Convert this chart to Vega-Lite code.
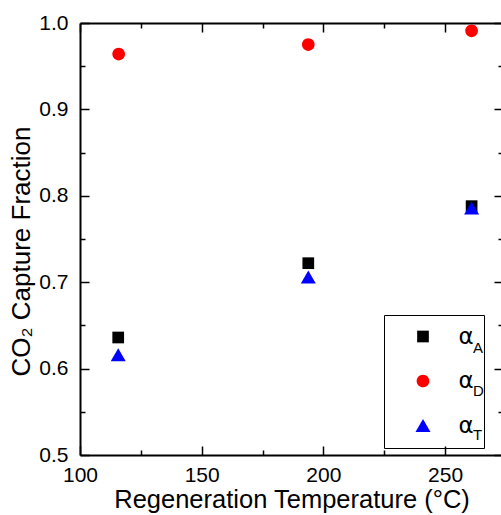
{
  "$schema": "https://vega.github.io/schema/vega-lite/v6.json",
  "width": 423,
  "height": 432,
  "autosize": {"type": "none"},
  "padding": {"left": 80, "top": 23, "right": 0, "bottom": 60},
  "background": "#ffffff",
  "config": {
    "view": {"stroke": null},
    "font": "Liberation Sans",
    "axis": {
      "grid": false,
      "domainColor": "#000000",
      "domainWidth": 2,
      "tickColor": "#000000",
      "tickWidth": 1.5,
      "labelColor": "#000000",
      "titleColor": "#000000",
      "labelFont": "Liberation Sans",
      "titleFont": "Liberation Sans",
      "titleFontWeight": "normal",
      "labelFlush": false,
      "labelOverlap": false
    }
  },
  "data": {
    "values": [
      {"temp": 115.7, "frac": 0.636, "series": "A", "sub": "a"},
      {"temp": 193.8, "frac": 0.722, "series": "A", "sub": "a"},
      {"temp": 260.9, "frac": 0.788, "series": "A", "sub": "a"},
      {"temp": 115.9, "frac": 0.964, "series": "D", "sub": "d"},
      {"temp": 193.8, "frac": 0.975, "series": "D", "sub": "d"},
      {"temp": 260.9, "frac": 0.991, "series": "D", "sub": "d"},
      {"temp": 115.7, "frac": 0.616, "series": "T", "sub": "t"},
      {"temp": 193.8, "frac": 0.706, "series": "T", "sub": "t"},
      {"temp": 260.9, "frac": 0.786, "series": "T", "sub": "t"}
    ]
  },
  "layer": [
    {
      "mark": {"type": "point", "filled": true, "opacity": 1, "strokeWidth": 0, "size": 225},
      "encoding": {
        "x": {
          "field": "temp", "type": "quantitative",
          "scale": {"domain": [100, 273.8], "nice": false, "zero": false},
          "axis": {
            "orient": "bottom",
            "values": [100, 125, 150, 175, 200, 225, 250],
            "format": "d",
            "labelExpr": "datum.value % 50 == 0 ? datum.label : ''",
            "tickSize": {"condition": {"test": "datum.value % 50 == 0", "value": -9}, "value": -5},
            "labelFontSize": 21,
            "labelPadding": 18,
            "title": "Regeneration Temperature (°C)",
            "titleFontSize": 25.5,
            "titlePadding": -2
          }
        },
        "y": {
          "field": "frac", "type": "quantitative",
          "scale": {"domain": [0.5, 1.0], "nice": false, "zero": false},
          "axis": {
            "orient": "left",
            "values": [0.5, 0.55, 0.6, 0.65, 0.7, 0.75, 0.8, 0.85, 0.9, 0.95, 1.0],
            "format": ".1f",
            "labelExpr": "round(datum.value * 100) % 10 == 0 ? datum.label : ''",
            "tickSize": {"condition": {"test": "round(datum.value * 100) % 10 == 0", "value": -9}, "value": -5},
            "labelFontSize": 21,
            "labelPadding": 21,
            "title": "CO₂ Capture Fraction",
            "titleFontSize": 26,
            "titlePadding": 4,
            "titleY": 228
          }
        },
        "color": {
          "field": "series", "type": "nominal",
          "scale": {"domain": ["A", "D", "T"], "range": ["#000000", "#ff0000", "#0000ff"]},
          "legend": {
            "orient": "none",
            "legendX": 304,
            "legendY": 292,
            "title": null,
            "strokeColor": "#000000",
            "padding": 10,
            "symbolSize": 225,
            "symbolStrokeWidth": 0,
            "symbolOffset": 17.5,
            "labelOffset": 24,
            "rowPadding": 20.5,
            "labelFont": "DejaVu Sans",
            "labelFontSize": 23,
            "labelColor": "#000000",
            "labelExpr": "'α\u2004'"
          }
        },
        "shape": {
          "field": "series", "type": "nominal",
          "scale": {
            "domain": ["A", "D", "T"],
            "range": [
              "M-0.78,-0.78L0.78,-0.78L0.78,0.78L-0.78,0.78Z",
              "M-0.847,0A0.847,0.847,0,1,1,0.847,0A0.847,0.847,0,1,1,-0.847,0Z",
              "triangle-up"
            ]
          }
        },
        "opacity": {
          "field": "sub", "type": "nominal",
          "scale": {"type": "point", "domain": ["a", "d", "t"], "range": [1, 1]},
          "legend": {
            "orient": "none",
            "legendX": 378,
            "legendY": 317,
            "title": null,
            "padding": 0,
            "symbolSize": 0,
            "symbolStrokeWidth": 0,
            "symbolFillColor": "transparent",
            "labelOffset": 0,
            "rowPadding": 27.5,
            "labelFont": "Liberation Sans",
            "labelFontSize": 15,
            "labelColor": "#000000",
            "labelExpr": "upper(datum.label)"
          }
        }
      }
    },
    {
      "mark": {"type": "point", "opacity": 0},
      "encoding": {
        "x": {
          "field": "temp", "type": "quantitative",
          "scale": {"domain": [100, 273.8], "nice": false, "zero": false},
          "axis": {
            "orient": "top",
            "values": [100, 125, 150, 175, 200, 225, 250],
            "labels": false,
            "title": null,
            "tickSize": {"condition": {"test": "datum.value % 50 == 0", "value": -9}, "value": -5}
          }
        },
        "y": {
          "field": "frac", "type": "quantitative",
          "scale": {"domain": [0.5, 1.0], "nice": false, "zero": false},
          "axis": {
            "orient": "right",
            "values": [0.5, 0.55, 0.6, 0.65, 0.7, 0.75, 0.8, 0.85, 0.9, 0.95, 1.0],
            "labels": false,
            "title": null,
            "tickSize": {"condition": {"test": "round(datum.value * 100) % 10 == 0", "value": -9}, "value": -5}
          }
        }
      }
    }
  ],
  "resolve": {"axis": {"x": "independent", "y": "independent"}}
}
